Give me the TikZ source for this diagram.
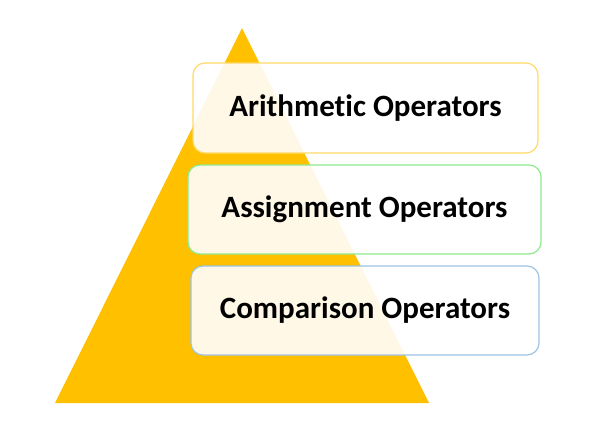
\documentclass[tikz,border=0pt]{standalone}
\usepackage{fontspec}
\setmainfont{Carlito}[Ligatures=NoCommon]
\definecolor{gold}{HTML}{FFC000}
\definecolor{bgold}{HTML}{FFD966}
\definecolor{bgreen}{HTML}{8EEA8E}
\definecolor{bblue}{HTML}{9DC3E6}
\begin{document}
\begin{tikzpicture}[x=1pt,y=-1pt,
  opbox/.style={line width=1.2pt, rounded corners=12pt, fill=white, fill opacity=0.9, text opacity=1, text=black, font=\fontsize{31}{36}\selectfont\bfseries}]
\useasboundingbox (0,0) rectangle (592,440);
\fill[gold] (242,28) -- (429,403) -- (55,403) -- cycle;
\node[opbox, draw=bgold, minimum width=345pt, minimum height=90pt] (a) at (365.5,108) {Arithmetic Operators};
\node[opbox, draw=bgreen, minimum width=353pt, minimum height=89pt] (b) at (364.5,209.5) {Assignment Operators};
\node[opbox, draw=bblue, minimum width=348pt, minimum height=89pt] (c) at (365,310.5) {Comparison Operators};
\end{tikzpicture}
\end{document}
